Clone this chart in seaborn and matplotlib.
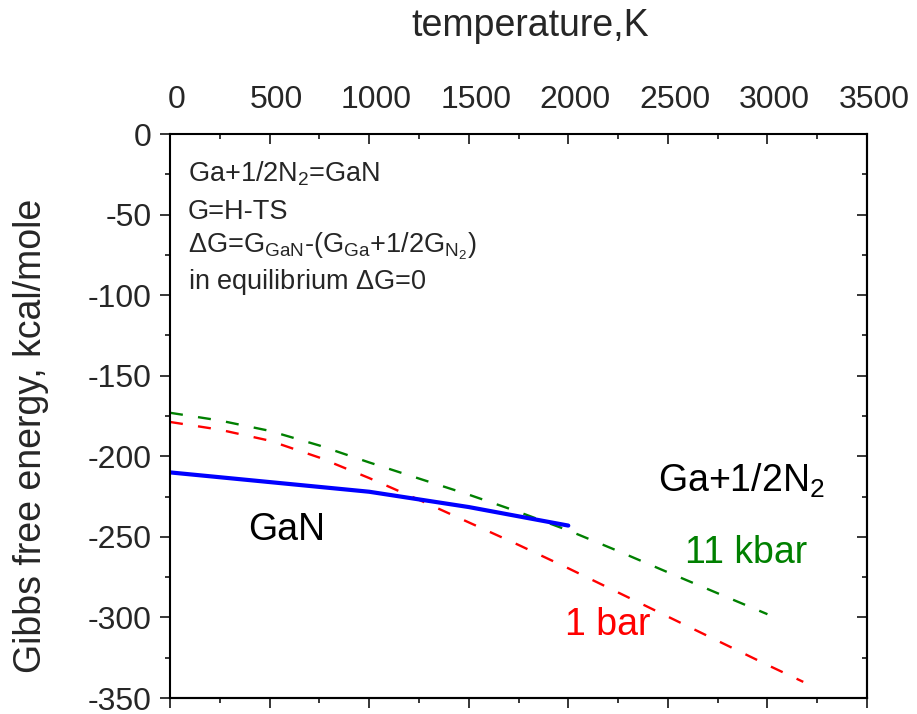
import matplotlib
matplotlib.use("Agg")
import matplotlib.pyplot as plt
import seaborn as sns
import pandas as pd
from matplotlib.ticker import MultipleLocator
from matplotlib.transforms import ScaledTranslation

# ---- data ----
T_gan = [0, 500, 1000, 1500, 2000]
G_gan = [-210.0, -216.0, -222.0, -231.5, -243.0]

T_1bar = [0, 250, 500, 750, 1000, 1250, 1500, 1750, 2000, 2250, 2500, 2750, 3000, 3180]
G_1bar = [-178.7, -183.5, -190.3, -200.8, -213.5, -227.0, -241.0, -255.0, -269.5,
          -284.5, -299.5, -314.5, -329.5, -340.0]

T_11kbar = [0, 250, 500, 750, 1000, 1250, 1500, 1750, 2000, 2250, 2500, 2750, 3000]
G_11kbar = [-173.0, -177.8, -184.2, -193.3, -203.8, -213.8, -223.8, -234.5, -246.0,
            -258.8, -272.0, -285.0, -298.0]

x_ticks = [0, 500, 1000, 1500, 2000, 2500, 3000, 3500]
y_ticks = [0, -50, -100, -150, -200, -250, -300, -350]

sns.set_style("ticks")
plt.rcParams["font.family"] = ["Liberation Sans", "DejaVu Sans"]
plt.rcParams["mathtext.fontset"] = "custom"
plt.rcParams["mathtext.rm"] = "Liberation Sans"
plt.rcParams["mathtext.it"] = "Liberation Sans:italic"
plt.rcParams["mathtext.bf"] = "Liberation Sans:bold"
plt.rcParams["axes.unicode_minus"] = False

fig = plt.figure(figsize=(9.17, 7.14), dpi=100)
ax = fig.add_axes([170 / 917, 1 - 698 / 714, 697 / 917, 564 / 714])

df_gan = pd.DataFrame({"T": T_gan, "G": G_gan})
df_1 = pd.DataFrame({"T": T_1bar, "G": G_1bar})
df_11 = pd.DataFrame({"T": T_11kbar, "G": G_11kbar})

sns.lineplot(data=df_11, x="T", y="G", ax=ax, color="#008000", lw=1.7,
             linestyle=(0, (5.5, 6.5)))
sns.lineplot(data=df_1, x="T", y="G", ax=ax, color="#FF0000", lw=1.7,
             linestyle=(0, (5.5, 6.5)))
sns.lineplot(data=df_gan, x="T", y="G", ax=ax, color="#0000FF", lw=3.0)

ax.set_xlim(0, 3500)
ax.set_ylim(-350, 0)
ax.set_xticks(x_ticks)
ax.set_yticks(y_ticks)
ax.xaxis.set_minor_locator(MultipleLocator(250))
ax.yaxis.set_minor_locator(MultipleLocator(25))

for s in ax.spines.values():
    s.set_linewidth(1.5)
    s.set_color("black")

ax.xaxis.tick_top()
ax.xaxis.set_label_position("top")
ax.tick_params(axis="x", which="both", direction="in", top=True, bottom=False,
               labelsize=23, pad=14, width=1.1, color="black")
ax.tick_params(axis="x", which="major", length=7)
ax.tick_params(axis="x", which="minor", length=3.5)
ax.tick_params(axis="y", which="both", direction="out", left=True, right=False,
               labelsize=23, pad=6, width=1.1, color="black")
ax.tick_params(axis="y", which="major", length=7)
ax.tick_params(axis="y", which="minor", length=3.5)

offset = ScaledTranslation(7 / 100, 0, fig.dpi_scale_trans)
for lab in ax.get_xticklabels():
    lab.set_transform(lab.get_transform() + offset)

# bottom and right mirrored ticks
secx = ax.secondary_xaxis("bottom")
secx.set_xticks(x_ticks)
secx.xaxis.set_minor_locator(MultipleLocator(250))
secx.tick_params(axis="x", which="both", direction="out", labelbottom=False,
                 width=1.1, color="black")
secx.tick_params(axis="x", which="major", length=7)
secx.tick_params(axis="x", which="minor", length=3.5)
secx.spines["bottom"].set_linewidth(1.5)

secy = ax.secondary_yaxis("right")
secy.set_yticks(y_ticks)
secy.yaxis.set_minor_locator(MultipleLocator(25))
secy.tick_params(axis="y", which="both", direction="in", labelright=False,
                 width=1.1, color="black")
secy.tick_params(axis="y", which="major", length=7)
secy.tick_params(axis="y", which="minor", length=3.5)
secy.spines["right"].set_linewidth(1.5)

ax.set_xlabel("temperature,K", fontsize=27, labelpad=35)
ax.xaxis.label.set_x(0.517)
ax.set_ylabel("Gibbs free energy, kcal/mole", fontsize=27, labelpad=28)
ax.yaxis.label.set_y(0.465)

tkw = dict(transform=ax.transAxes, va="baseline", ha="left")
fs = 19.5
ax.text(0.026, 0.915, r"Ga+1/2N$_2$=GaN", fontsize=fs, **tkw)
ax.text(0.026, 0.850, "G=H-TS", fontsize=fs, **tkw)
ax.text(0.026, 0.790,
        r"$\Delta$G=G$_{\mathrm{GaN}}$-(G$_{\mathrm{Ga}}$+1/2G$_{\mathrm{N}_2}$)",
        fontsize=fs, **tkw)
ax.text(0.026, 0.726, r"in equilibrium $\Delta$G=0", fontsize=fs, **tkw)

ax.text(0.112, 0.280, "GaN", fontsize=27, color="black", **tkw)
ax.text(0.700, 0.366, r"Ga+1/2N$_2$", fontsize=27, color="black", **tkw)
ax.text(0.739, 0.2385, "11 kbar", fontsize=27, color="#008000", **tkw)
ax.text(0.567, 0.112, "1 bar", fontsize=27, color="#FF0000", **tkw)

fig.savefig("out.png", dpi=100)
